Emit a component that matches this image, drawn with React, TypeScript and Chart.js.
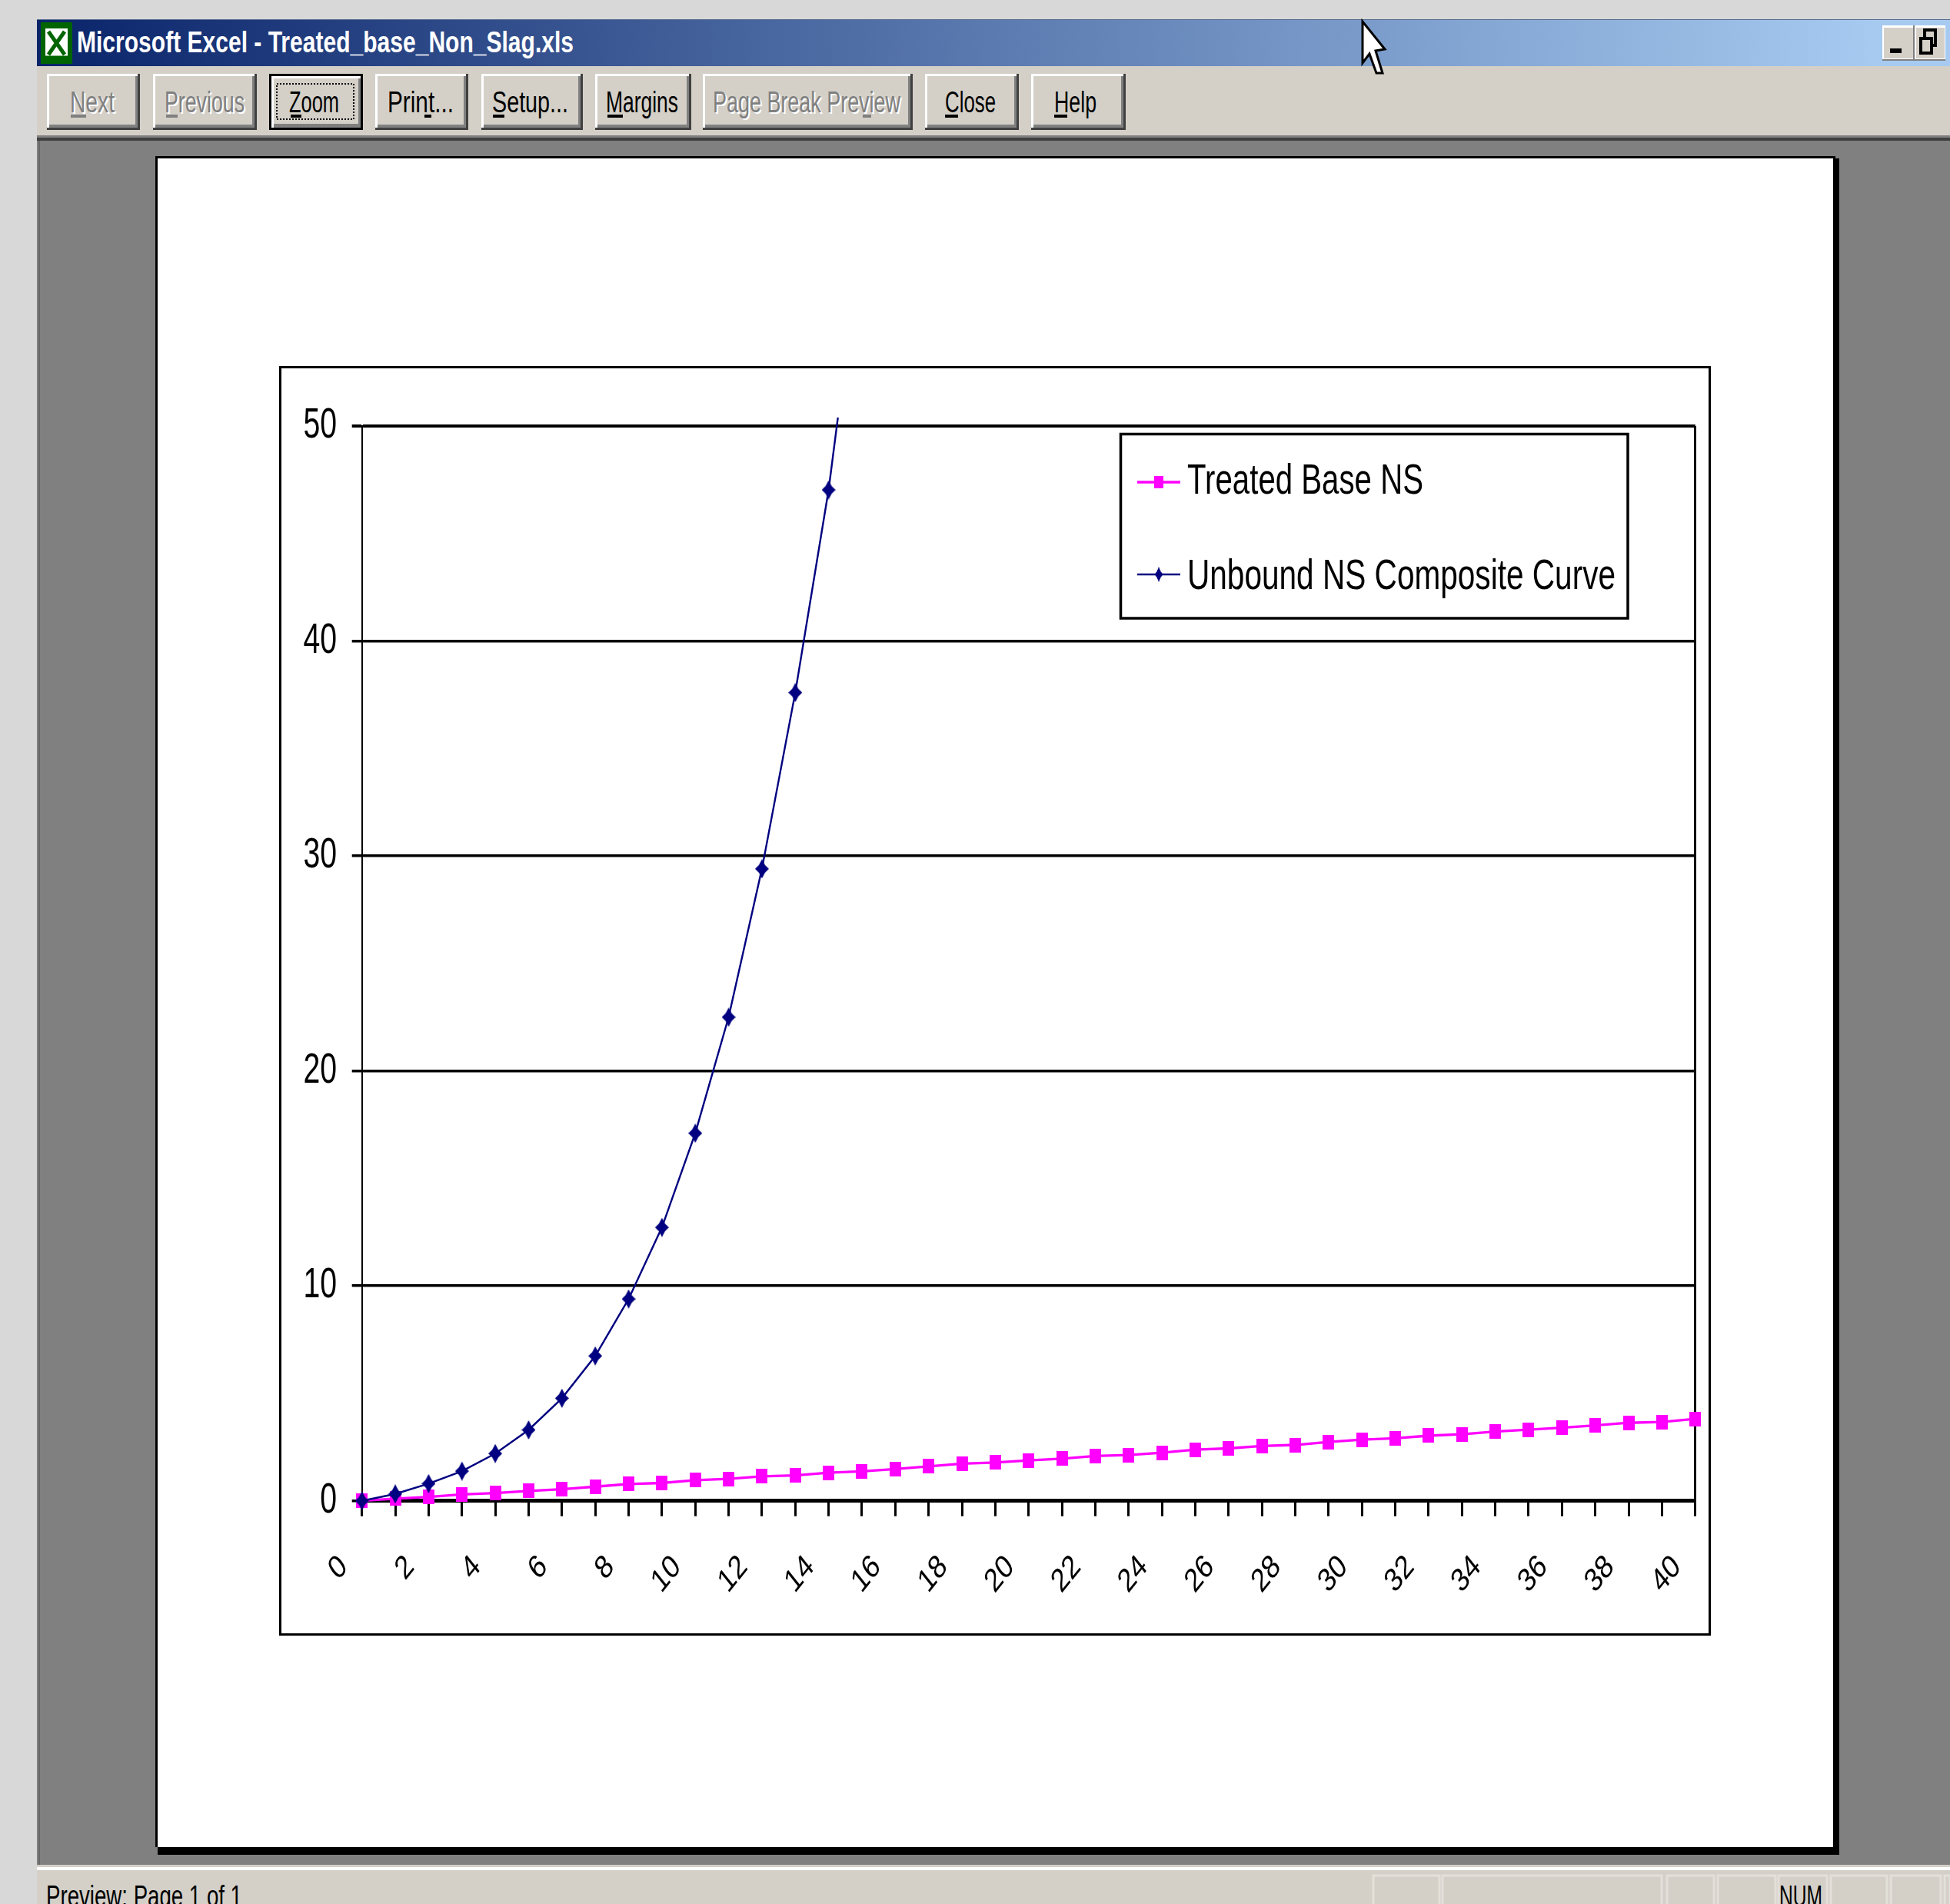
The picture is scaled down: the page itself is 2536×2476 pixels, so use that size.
import React, { useEffect, useRef } from "react";
import { Chart, registerables } from "chart.js";

Chart.register(...registerables);

const xLabels = ["0","1","2","3","4","5","6","7","8","9","10","11","12","13","14","15","16","17","18","19","20","21","22","23","24","25","26","27","28","29","30","31","32","33","34","35","36","37","38","39","40"];
const treatedBase = [0,0.1,0.18,0.3,0.36,0.46,0.54,0.66,0.78,0.83,0.96,1.02,1.14,1.18,1.31,1.37,1.48,1.6,1.73,1.78,1.88,1.96,2.09,2.13,2.24,2.38,2.44,2.55,2.6,2.74,2.85,2.91,3.03,3.1,3.22,3.31,3.4,3.51,3.63,3.67,3.81];
const unbound = [0,0.32,0.8,1.38,2.2,3.3,4.77,6.74,9.39,12.72,17.1,22.5,29.4,37.6,47.03,59.1];
const seriesNames = ["Treated Base NS", "Unbound NS Composite Curve"];
const yMax = 50;
const yStep = 10;

const CHART_X = 363, CHART_Y = 476, CHART_W = 1863, CHART_H = 1651;
const SANS = '"Liberation Sans", Arial, sans-serif';

function makeMarker(w: number, h: number, color: string, diamond: boolean) {
  const c = document.createElement("canvas");
  c.width = w; c.height = h;
  const g = c.getContext("2d")!;
  g.fillStyle = color;
  if (diamond) {
    g.beginPath();
    g.moveTo(w / 2, 0);
    g.lineTo(w * 0.72, h * 0.3);
    g.lineTo(w, h / 2);
    g.lineTo(w * 0.72, h * 0.7);
    g.lineTo(w / 2, h);
    g.lineTo(w * 0.28, h * 0.7);
    g.lineTo(0, h / 2);
    g.lineTo(w * 0.28, h * 0.3);
    g.closePath();
    g.fill();
  } else g.fillRect(0, 0, w, h);
  return c;
}

// The reference's screen-font labels are much narrower than any installed face,
// so the tick labels of the two scales are painted here, condensed.
const condensedTicks = {
  id: "condensedTicks",
  afterDraw(chart: any) {
    const ctx = chart.ctx;
    ctx.save();
    ctx.fillStyle = "#000";
    const y = chart.scales.y;
    ctx.font = `56px ${SANS}`;
    ctx.textAlign = "right";
    ctx.textBaseline = "alphabetic";
    y.ticks.forEach((t: any, i: number) => {
      const label = String(t.value);
      const w = ctx.measureText(label).width;
      ctx.fillText(label, y.left + 75, y.getPixelForTick(i) + 15, w * 0.7);
    });
    const x = chart.scales.x;
    ctx.font = `34px ${SANS}`;
    ctx.textBaseline = "middle";
    x.ticks.forEach((t: any, i: number) => {
      if (!t.label) return;
      ctx.save();
      ctx.translate(x.getPixelForTick(i) - 24, chart.chartArea.bottom + 79);
      ctx.scale(1, 1.26);
      ctx.rotate(-Math.PI / 4);
      ctx.fillText(String(t.label), 0, 0);
      ctx.restore();
    });
    ctx.restore();
  },
};

const legendPlugin = {
  id: "boxLegend",
  afterDraw(chart: any) {
    const ctx = chart.ctx;
    const box = { l: 1094.5, t: 88.5, r: 1754, b: 328 };
    ctx.save();
    ctx.strokeStyle = "#000";
    ctx.lineWidth = 3.5;
    ctx.strokeRect(box.l, box.t, box.r - box.l, box.b - box.t);
    const rows = [
      { lineY: 151, base: 166, width: 307 },
      { lineY: 271, base: 290, width: 557 },
    ];
    chart.data.datasets.forEach((d: any, i: number) => {
      const r = rows[i];
      ctx.strokeStyle = d.borderColor;
      ctx.lineWidth = d.borderWidth;
      ctx.beginPath();
      ctx.moveTo(1116, r.lineY);
      ctx.lineTo(1172, r.lineY);
      ctx.stroke();
      const mw = i === 0 ? 12 : 11, mh = i === 0 ? 16 : 20;
      ctx.drawImage(d.pointStyle, 1144 - mw / 2, r.lineY - mh / 2, mw, mh);
      ctx.fillStyle = "#000";
      ctx.textBaseline = "alphabetic";
      ctx.textAlign = "left";
      ctx.font = `56px ${SANS}`;
      ctx.fillText(d.label, 1181, r.base, r.width);
    });
    ctx.restore();
  },
};

function BoxChart() {
  const ref = useRef<HTMLCanvasElement>(null);
  useEffect(() => {
    const chart = new Chart(ref.current!, {
      type: "line",
      plugins: [condensedTicks, legendPlugin],
      data: {
        labels: xLabels,
        datasets: [
          {
            label: seriesNames[0],
            data: treatedBase,
            borderColor: "#FF00FF",
            backgroundColor: "#FF00FF",
            borderWidth: 3.3,
            pointStyle: makeMarker(15, 19, "#FF00FF", false) as any,
            pointRadius: 9,
            tension: 0,
            order: 2,
            clip: { left: 14, top: 11, right: 14, bottom: 14 } as any,
          },
          {
            label: seriesNames[1],
            data: unbound,
            borderColor: "#000080",
            backgroundColor: "#000080",
            borderWidth: 2.4,
            pointStyle: makeMarker(18, 25, "#000080", true) as any,
            pointRadius: 11,
            tension: 0,
            order: 1,
            clip: { left: 14, top: 11, right: 14, bottom: 14 } as any,
          },
        ],
      },
      options: {
        animation: false,
        responsive: false,
        devicePixelRatio: 1,
        events: [],
        layout: { autoPadding: false, padding: { left: 0, top: 78, right: 21.25, bottom: 0 } },
        plugins: { legend: { display: false }, tooltip: { enabled: false }, title: { display: false } },
        scales: {
          x: {
            type: "category",
            offset: false,
            afterFit: (s: any) => { s.height = 175.3; },
            border: { display: true, color: "#000", width: 5 },
            grid: {
              color: (c: any) => (c.index === 40 ? "#000" : "rgba(0,0,0,0)"),
              lineWidth: 3,
              tickColor: "#000",
              tickWidth: 3,
              tickLength: 20,
              drawOnChartArea: true,
            },
            ticks: {
              display: false,
              autoSkip: false,
              maxRotation: 0,
              callback: (_v: any, i: number) => (i % 2 === 0 ? xLabels[i] : ""),
            },
          },
          y: {
            min: 0,
            max: yMax,
            afterFit: (s: any) => { s.width = 107.7; },
            border: { display: true, color: "#000", width: 2 },
            grid: {
              color: "#000",
              lineWidth: (c: any) => (c.tick && c.tick.value === yMax ? 4 : 3.5),
              tickColor: "#000",
              tickLength: 13,
            },
            ticks: { display: false, stepSize: yStep },
          },
        },
      },
    });
    return () => chart.destroy();
  }, []);
  return (
    <canvas
      ref={ref}
      width={CHART_W}
      height={CHART_H}
      style={{ position: "absolute", left: CHART_X, top: CHART_Y, width: CHART_W, height: CHART_H }}
    />
  );
}

const TAN = "#D4D0C8";

type Btn = { x1: number; x2: number; label: string; tx: number; tw: number; ux: [number, number]; disabled?: boolean; def?: boolean };
const buttons: Btn[] = [
  { x1: 61, x2: 182, label: "Next", tx: 91, tw: 58, ux: [92, 112], disabled: true },
  { x1: 199, x2: 334, label: "Previous", tx: 214, tw: 104, ux: [216, 231], disabled: true },
  { x1: 350, x2: 472, label: "Zoom", tx: 376, tw: 65, ux: [378, 392], def: true },
  { x1: 488, x2: 609, label: "Print...", tx: 504, tw: 86, ux: [552, 561] },
  { x1: 626, x2: 758, label: "Setup...", tx: 640, tw: 99, ux: [641, 656] },
  { x1: 774, x2: 899, label: "Margins", tx: 788, tw: 94, ux: [790, 810] },
  { x1: 914, x2: 1187, label: "Page Break Preview", tx: 927, tw: 244, ux: [1122, 1133], disabled: true },
  { x1: 1203, x2: 1325, label: "Close", tx: 1229, tw: 66, ux: [1229, 1246] },
  { x1: 1341, x2: 1464, label: "Help", tx: 1371, tw: 55, ux: [1371, 1388] },
];

const statusPanels: [number, number][] = [
  [1786, 1872], [1876, 2161], [2168, 2229], [2234, 2309], [2313, 2376], [2381, 2454], [2459, 2524], [2529, 2536],
];

function Button({ b }: { b: Btn }) {
  const y1 = 96, y2 = 169;
  const fg = b.disabled ? "#808080" : "#000";
  const text = (dx: number, dy: number, fill: string) => (
    <text x={b.tx + dx} y={146 + dy} fontFamily={SANS} fontSize={38} fill={fill} textLength={b.tw} lengthAdjust="spacingAndGlyphs">{b.label}</text>
  );
  return (
    <g>
      <rect x={b.x1} y={y1} width={b.x2 - b.x1} height={y2 - y1} fill={b.def ? "#000" : "#404040"} />
      <rect x={b.x1 + (b.def ? 3 : 0)} y={y1 + (b.def ? 3 : 0)} width={b.x2 - b.x1 - (b.def ? 6 : 3)} height={y2 - y1 - (b.def ? 6 : 3)} fill="#fff" />
      <rect x={b.x1 + (b.def ? 6 : 3)} y={y1 + (b.def ? 6 : 3)} width={b.x2 - b.x1 - (b.def ? 9 : 6)} height={y2 - y1 - (b.def ? 9 : 6)} fill="#808080" />
      <rect x={b.x1 + (b.def ? 6 : 3)} y={y1 + (b.def ? 6 : 3)} width={b.x2 - b.x1 - (b.def ? 12 : 9)} height={y2 - y1 - (b.def ? 14 : 10)} fill={TAN} />
      {b.disabled && text(2, 2, "#fff")}
      {text(0, 0, fg)}
      <rect x={b.ux[0]} y={149} width={b.ux[1] - b.ux[0]} height={4} fill={fg} />
      {b.def && <rect x={360} y={109} width={100} height={46} fill="none" stroke="#000" strokeWidth={2} strokeDasharray="2 2" />}
    </g>
  );
}

function Chrome() {
  return (
    <svg width={2536} height={2476} style={{ position: "absolute", left: 0, top: 0, display: "block" }}>
      <defs>
        <linearGradient id="tb" gradientUnits="userSpaceOnUse" x1="48" x2="2440" y1="0" y2="0">
          <stop offset="0" stopColor="#0A246A" />
          <stop offset="1" stopColor="#A6CAF0" />
        </linearGradient>
      </defs>
      <rect x={0} y={0} width={2536} height={2476} fill="#D8D8D8" />
      {/* window */}
      <rect x={48} y={25} width={2488} height={61} fill="url(#tb)" />
      <rect x={48} y={25} width={2488} height={1} fill="#54688F" />
      <rect x={48} y={86} width={2488} height={90} fill={TAN} />
      <rect x={48} y={176} width={2488} height={3} fill="#808080" />
      <rect x={48} y={179} width={2488} height={4} fill="#404040" />
      <rect x={48} y={183} width={2488} height={2242} fill="#808080" />
      <rect x={50} y={183} width={2} height={2242} fill="#666" />
      {/* icon */}
      <rect x={53} y={29} width={41} height={54} fill="#006400" />
      <rect x={59} y={37} width={29} height={38} fill="#fff" />
      <path d="M63 41 L84 71 M84 41 L63 71 M59 75 L88 75" stroke="#006400" strokeWidth={5} fill="none" />
      <text x={100} y={68} fontFamily={SANS} fontWeight={700} fontSize={39} fill="#fff" textLength={646} lengthAdjust="spacingAndGlyphs">Microsoft Excel - Treated_base_Non_Slag.xls</text>
      {/* window buttons */}
      <rect x={2448} y={33} width={82} height={46} fill="#808080" />
      <rect x={2448} y={33} width={40} height={44} fill="#fff" />
      <rect x={2450} y={36} width={38} height={40} fill={TAN} />
      <rect x={2490} y={33} width={40} height={44} fill="#fff" />
      <rect x={2492} y={36} width={37} height={40} fill={TAN} />
      <rect x={2458} y={63} width={15} height={6} fill="#000" />
      <rect x={2503} y={39} width={14} height={20} fill="none" stroke="#000" strokeWidth={4} />
      <rect x={2498} y={50} width={14} height={19} fill={TAN} stroke="#000" strokeWidth={4} />
      {buttons.map((b) => <Button key={b.label} b={b} />)}
      {/* page */}
      <rect x={205} y={206} width={2187} height={2206} fill="#000" />
      <rect x={202} y={203} width={2185} height={2199} fill="#000" />
      <rect x={205} y={206} width={2179} height={2196} fill="#fff" />
      {/* chart border */}
      <rect x={364.5} y={477.5} width={1859} height={1648} fill="#fff" stroke="#000" strokeWidth={3} />
      {/* status bar */}
      <rect x={48} y={2425} width={2488} height={51} fill={TAN} />
      <rect x={48} y={2428} width={2488} height={4} fill="#fff" />
      {statusPanels.map(([a, b]) => (
        <rect key={a} x={a} y={2439} width={b - a} height={60} fill="none" stroke="#E3E0DA" strokeWidth={3} />
      ))}
      <text x={60} y={2479} fontFamily={SANS} fontSize={38} fill="#000" textLength={255} lengthAdjust="spacingAndGlyphs">Preview: Page 1 of 1</text>
      <text x={2314} y={2479} fontFamily={SANS} fontSize={38} fill="#000" textLength={56} lengthAdjust="spacingAndGlyphs">NUM</text>
      {/* cursor */}
      <path d="M1772 28 L1772 82 L1781 70 L1790 95 L1798 95 L1789 66 L1801 64 Z" fill="#fff" stroke="#000" strokeWidth={3} />
    </svg>
  );
}

export default function App() {
  return (
    <div style={{ position: "fixed", left: 0, top: 0, width: 2536, height: 2476, overflow: "hidden", background: "#D8D8D8" }}>
      <Chrome />
      <BoxChart />
    </div>
  );
}
